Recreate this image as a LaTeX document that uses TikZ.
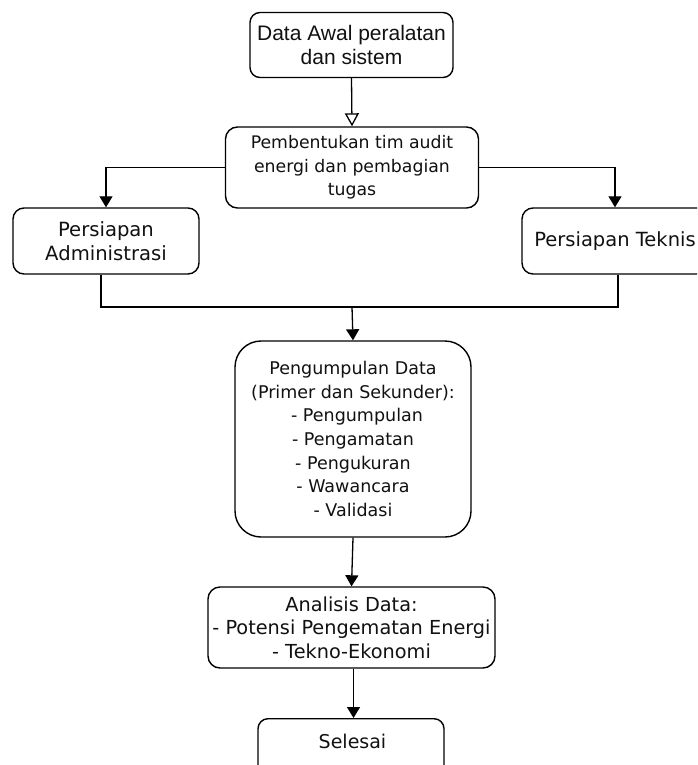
\documentclass[tikz,border=0pt]{standalone}
\usepackage{fontspec}
\setmainfont{DejaVu Sans}
\newfontfamily\arialfont{Liberation Sans}
\usetikzlibrary{arrows.meta}
\definecolor{txt}{HTML}{111111}
\tikzset{
  box/.style={draw=black, line width=1.4pt, fill=white, align=center, text=txt, inner sep=0pt, rounded corners=11pt},
  arr/.style={draw=black, line width=1.3pt, -{Triangle[width=13pt,length=11pt]}},
  openarr/.style={draw=black, line width=1.3pt, -{Triangle[open,width=14pt,length=13pt]}},
  conn/.style={draw=black, line width=1.3pt}
}
\begin{document}
\begin{tikzpicture}[x=1pt,y=-1pt]
\useasboundingbox (0,0) rectangle (697,765);
\clip (0,0) rectangle (697,765);
\fill[white] (0,0) rectangle (697,765);

\node[box, minimum width=203pt, minimum height=65pt, rounded corners=10pt,
      font=\arialfont\fontsize{21}{24.5}\selectfont] (awal) at (351.5,45)
  {Data Awal peralatan\\dan sistem};

\node[box, minimum width=253pt, minimum height=81pt, rounded corners=12pt,
      font=\fontsize{17.3}{23.5}\selectfont] (tim) at (352,167.5)
  {Pembentukan tim audit\\energi dan pembagian\\tugas};

\node[box, minimum width=186pt, minimum height=66pt, rounded corners=11pt,
      font=\fontsize{19.6}{24}\selectfont] (adm) at (106,241)
  {Persiapan\\Administrasi};

\node[box, minimum width=186pt, minimum height=66pt, rounded corners=11pt,
      font=\fontsize{19.5}{24}\selectfont] (tek) at (615,241)
  {Persiapan Teknis};

\node[box, minimum width=236pt, minimum height=196pt, rounded corners=26pt,
      font=\fontsize{17.5}{23.6}\selectfont] (kumpul) at (353,439)
  {Pengumpulan Data\\(Primer dan Sekunder):\\\hspace*{8pt}- Pengumpulan\\- Pengamatan\\- Pengukuran\\- Wawancara\\- Validasi};

\node[box, minimum width=287pt, minimum height=81pt, rounded corners=12pt,
      font=\fontsize{19.3}{23.5}\selectfont] (analisis) at (351.5,627.5)
  {Analisis Data:\\- Potensi Pengematan Energi\\- Tekno-Ekonomi};

\node[box, minimum width=186pt, minimum height=60pt, rounded corners=10pt,
      anchor=north] (selesai) at (351,718) {};
\node[text=txt, font=\fontsize{19}{23}\selectfont, inner sep=0pt] (selesaitxt) at (352.5,741) {Selesai};

\coordinate (join) at (352,307);

\draw[openarr] (awal.south) -- (tim.north);
\draw[arr] (tim.west) -| (adm.north);
\draw[arr] (tim.east) -| (tek.north);
\draw[conn] ([xshift=-5pt]adm.south) |- (join) -| ([xshift=3pt]tek.south);
\draw[arr] (join) -- (kumpul.north);
\draw[arr] (kumpul.south) -- (analisis.north);
\draw[arr] ([xshift=2pt]analisis.south) -- ([xshift=2pt]analisis.south |- selesai.north);
\end{tikzpicture}
\end{document}
